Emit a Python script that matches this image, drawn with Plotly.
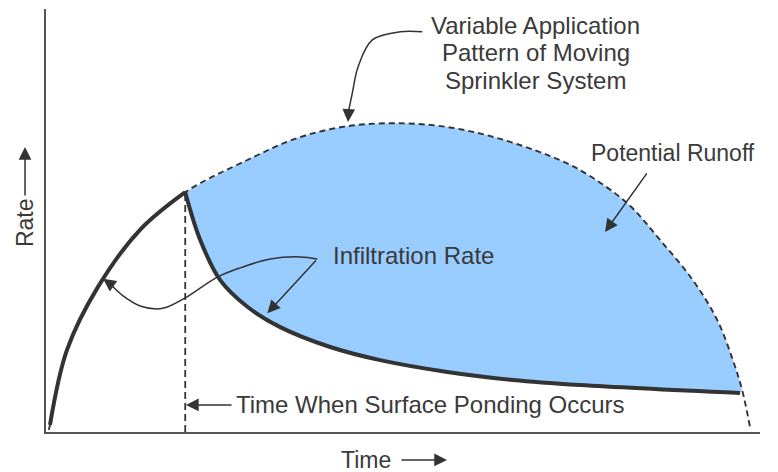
import plotly.graph_objects as go

# Conceptual data (time in arbitrary units 0-10, rate in arbitrary units 0-10)
# Variable application pattern of moving sprinkler system (dashed curve)
app_time = [0.04, 0.056, 0.294, 0.728, 1.317, 1.95,
            2.82, 3.52, 4.22, 4.92, 5.62, 6.32, 7.02, 7.48, 8.14, 8.60, 9.06, 9.40,
            9.62, 9.75, 9.86]
app_rate = [0.05, 0.17, 1.94, 3.43, 4.78, 5.67,
            6.43, 6.95, 7.23, 7.30, 7.21, 6.95, 6.55, 6.19, 5.41, 4.54, 3.59, 2.65,
            1.70, 0.99, 0.12]

# Infiltration rate (solid curve): rising part follows application, then decays
ponding_time = 1.95
rise_time = [0.056, 0.294, 0.728, 1.317, 1.95]
rise_rate = [0.17, 1.94, 3.43, 4.78, 5.67]
decay_time = [1.95, 2.16, 2.44, 2.82, 3.28, 3.98, 4.68, 5.62, 6.54, 7.48, 9.72]
decay_rate = [5.67, 4.54, 3.59, 2.96, 2.48, 2.01, 1.70, 1.42, 1.23, 1.11, 0.92]

# upper fill boundary = application curve between ponding and end of runoff
fill_top = [(t, r) for t, r in zip(app_time, app_rate) if ponding_time <= t <= 9.76]
fill_top_t = [p[0] for p in fill_top]
fill_top_r = [p[1] for p in fill_top]

# Curved annotation leader lines
lead_app_t = [5.27, 4.96, 4.57, 4.37, 4.29, 4.24]
lead_app_r = [9.46, 9.46, 9.27, 8.63, 8.01, 7.61]
lead_inf_t = [3.80, 3.56, 3.14, 2.72, 2.40, 1.97, 1.69, 1.55, 1.32, 1.08, 0.90]
lead_inf_r = [4.09, 4.14, 4.09, 3.88, 3.66, 3.19, 2.95, 2.91, 2.98, 3.22, 3.50]

INK = "#333333"
TXT = "#3a3a3a"
FONT = "Liberation Sans, Arial, sans-serif"

fig = go.Figure()

# Fill (potential runoff)
fig.add_trace(go.Scatter(x=fill_top_t, y=fill_top_r, mode="lines",
                         line=dict(width=0, shape="spline"), hoverinfo="skip",
                         showlegend=False))
fig.add_trace(go.Scatter(x=decay_time, y=decay_rate, mode="lines",
                         line=dict(width=0, shape="spline"), fill="tonexty",
                         fillcolor="#99ccff", hoverinfo="skip", showlegend=False))

# Application pattern (dashed)
fig.add_trace(go.Scatter(x=app_time, y=app_rate, mode="lines",
                         line=dict(color=INK, width=1.9, dash="6px,4px", shape="spline"),
                         showlegend=False))
# Vertical dashed line at ponding time
fig.add_trace(go.Scatter(x=[ponding_time, ponding_time], y=[0, rise_rate[-1]], mode="lines",
                         line=dict(color=INK, width=1.8, dash="7px,4px"),
                         showlegend=False))
# Infiltration rate (solid)
fig.add_trace(go.Scatter(x=rise_time, y=rise_rate, mode="lines",
                         line=dict(color=INK, width=4, shape="spline"), showlegend=False))
fig.add_trace(go.Scatter(x=decay_time, y=decay_rate, mode="lines",
                         line=dict(color=INK, width=4, shape="spline"), showlegend=False))

# Curved leader lines
fig.add_trace(go.Scatter(x=lead_app_t, y=lead_app_r, mode="lines",
                         line=dict(color=INK, width=1.5, shape="spline"), showlegend=False))
fig.add_trace(go.Scatter(x=lead_inf_t, y=lead_inf_r, mode="lines",
                         line=dict(color=INK, width=1.5, shape="spline"), showlegend=False))

annotations = []

def text(x, y, s, size=24, angle=0, ref="x"):
    annotations.append(dict(x=x, y=y, xref="x" if ref == "x" else "paper",
                            yref="y" if ref == "x" else "paper", text=s, showarrow=False,
                            font=dict(family=FONT, size=size, color=TXT),
                            xanchor="center", yanchor="middle", textangle=angle))

def arrow(x0, y0, x1, y1):
    annotations.append(dict(x=x1, y=y1, ax=x0, ay=y0, xref="x", yref="y",
                            axref="x", ayref="y", text="", showarrow=True,
                            arrowhead=2, arrowsize=1.7, arrowwidth=1.5,
                            arrowcolor=INK, standoff=0, startstandoff=0))

def paper_arrow(x1, y1, dx, dy):
    annotations.append(dict(x=x1, y=y1, ax=dx, ay=dy, xref="paper", yref="paper",
                            axref="pixel", ayref="pixel", text="", showarrow=True,
                            arrowhead=2, arrowsize=1.7, arrowwidth=1.5,
                            arrowcolor=INK, standoff=0, startstandoff=0))

text(6.86, 9.62, "Variable Application")
text(6.86, 8.96, "Pattern of Moving")
text(6.86, 8.32, "Sprinkler System")
text(8.78, 6.60, "Potential Runoff", size=23)
text(5.15, 4.18, "Infiltration Rate")
text(5.39, 0.66, "Time When Surface Ponding Occurs")
text(0.448, -0.066, "Time", size=23, ref="paper")
text(-0.0294, 0.494, "Rate", size=23, angle=-90, ref="paper")

arrow(4.24, 7.61, 4.23, 7.33)          # app pattern arrow tip
arrow(8.43, 6.15, 7.83, 4.73)          # potential runoff
arrow(3.80, 4.09, 3.10, 2.81)          # infiltration (right)
arrow(0.90, 3.50, 0.80, 3.62)          # infiltration (left tip)
arrow(2.62, 0.64, 1.96, 0.64)          # ponding time
paper_arrow(0.5616, -0.066, -47, 0)    # Time axis arrow
paper_arrow(-0.0294, 0.674, 0, 50)     # Rate axis arrow

fig.update_layout(
    width=778, height=472,
    margin=dict(l=46, r=18, t=9, b=40),
    paper_bgcolor="white", plot_bgcolor="white",
    font=dict(family=FONT, color=TXT),
    annotations=annotations,
    showlegend=False,
)
fig.update_xaxes(range=[0, 10], showgrid=False, zeroline=False, showticklabels=False,
                 ticks="", showline=True, linecolor="#555555", linewidth=1.5)
fig.update_yaxes(range=[0, 10], showgrid=False, zeroline=False, showticklabels=False,
                 ticks="", showline=True, linecolor="#555555", linewidth=1.5)

fig.write_html("out.html", config={"displayModeBar": False},
               post_script="document.body.style.margin='0';")
